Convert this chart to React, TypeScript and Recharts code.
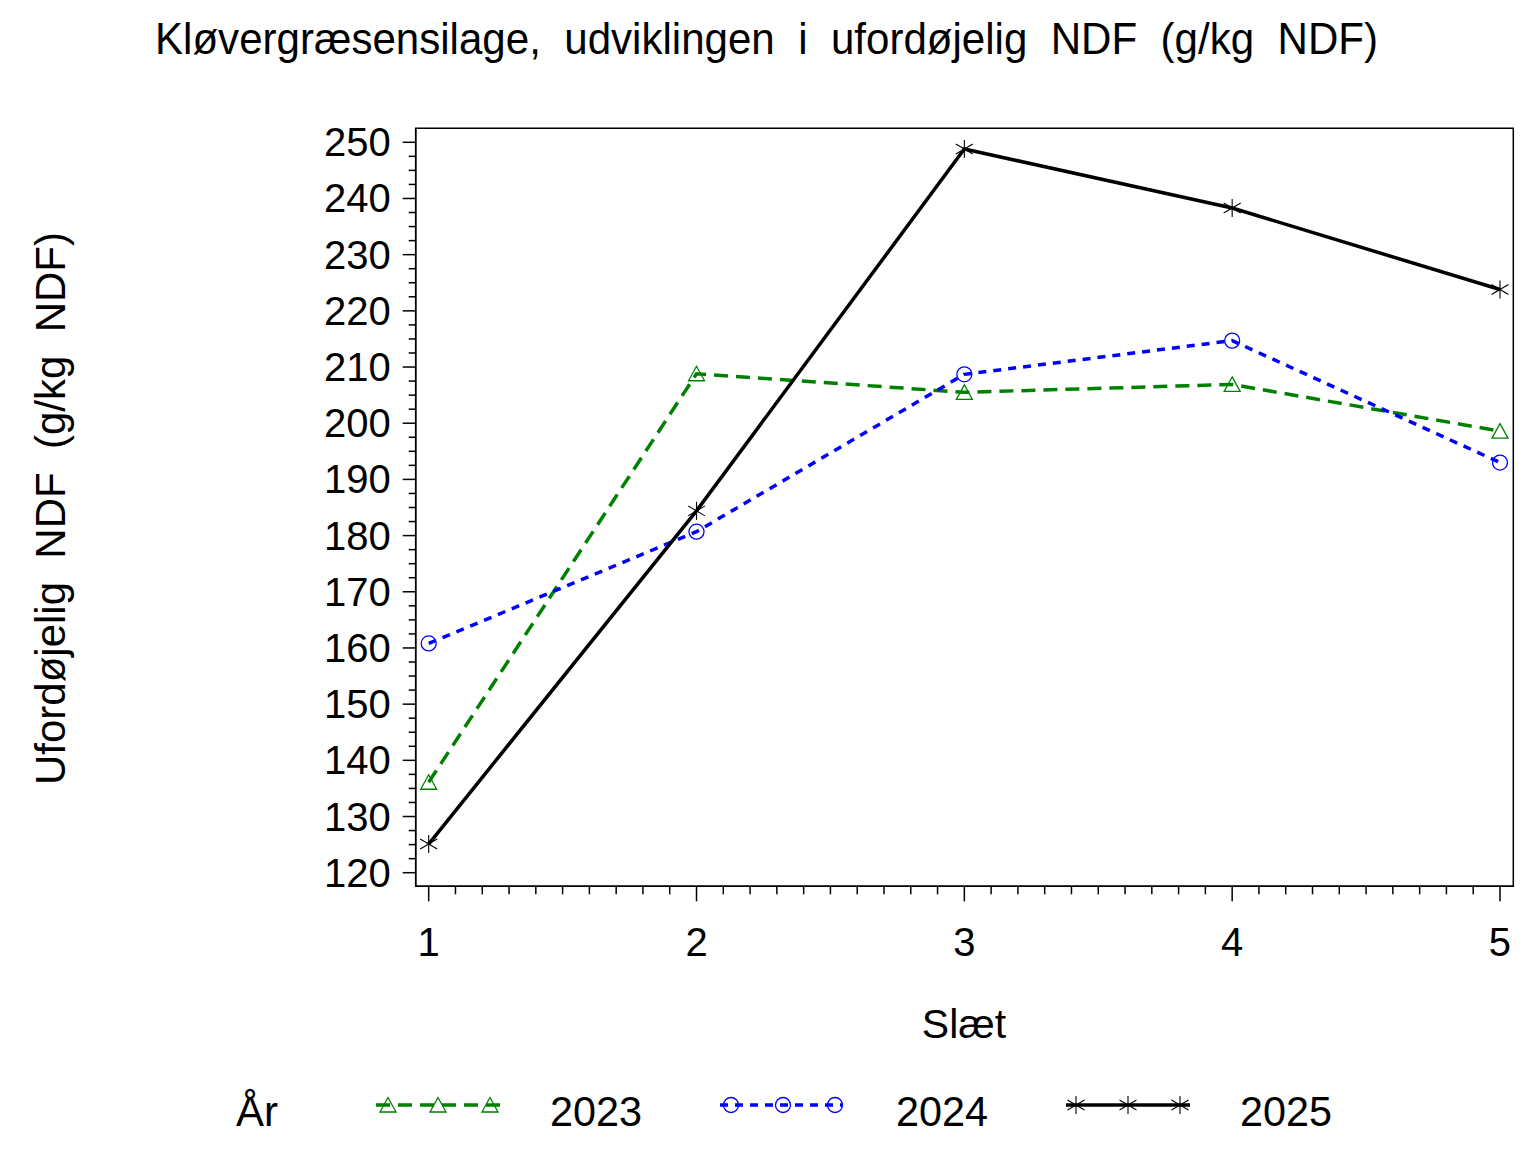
import React from 'react';
import { LineChart, Line, XAxis, YAxis, ReferenceArea, Legend } from 'recharts';

// ---- data ----
const slaet = [1, 2, 3, 4, 5];
const y2023 = [136.1, 208.8, 205.5, 206.9, 198.6];
const y2024 = [160.8, 180.7, 208.7, 214.7, 193.0];
const y2025 = [125.1, 184.4, 248.8, 238.3, 223.8];
const seriesNames = ['2023', '2024', '2025'];
const xMajorTicks = [1, 2, 3, 4, 5];
const yMajorTicks = [120, 130, 140, 150, 160, 170, 180, 190, 200, 210, 220, 230, 240, 250];
const titleText = 'Kløvergræsensilage,  udviklingen  i  ufordøjelig  NDF  (g/kg  NDF)';
const yLabelText = 'Ufordøjelig  NDF  (g/kg  NDF)';
const xLabelText = 'Slæt';
const legendTitle = 'År';

const xDomain: [number, number] = [0.9515, 5.0497];
const yDomain: [number, number] = [117.58, 252.49];

const data = slaet.map((s, i) => ({ slaet: s, y2023: y2023[i], y2024: y2024[i], y2025: y2025[i] }));

const xTicks: number[] = [];
for (let i = 0; i <= 40; i++) xTicks.push(Math.round((1 + i * 0.1) * 10) / 10);
const yTicks: number[] = [];
for (let v = 120; v <= 250; v += 2.5) yTicks.push(v);

const FONT = '"Liberation Sans", Arial, Helvetica, sans-serif';
const GREEN = '#008000';
const BLUE = '#0000ff';
const BLACK = '#000000';

const W = 1520;
const H = 1136;

const XTick = (props: any) => {
  const { x, y, payload } = props;
  const v = payload.value;
  const major = xMajorTicks.some((m) => Math.abs(m - v) < 1e-6);
  return (
    <g>
      <line x1={x} x2={x} y1={y} y2={y + (major ? 15 : 8)} stroke={BLACK} strokeWidth={1.5} />
      {major && (
        <text x={x} y={y + 70} textAnchor="middle" fontFamily={FONT} fontSize={40} fill={BLACK}>
          {String(Math.round(v))}
        </text>
      )}
    </g>
  );
};

const YTick = (props: any) => {
  const { x, y, payload } = props;
  const v = payload.value;
  const major = yMajorTicks.some((m) => Math.abs(m - v) < 1e-6);
  return (
    <g>
      <line x1={x - (major ? 13 : 7)} x2={x} y1={y} y2={y} stroke={BLACK} strokeWidth={1.5} />
      {major && (
        <text x={x - 25} y={y + 14} textAnchor="end" fontFamily={FONT} fontSize={40} fill={BLACK}>
          {String(Math.round(v))}
        </text>
      )}
    </g>
  );
};

const Triangle = ({ cx, cy }: { cx: number; cy: number }) => (
  <polygon
    points={`${cx},${cy - 7.5} ${cx - 8},${cy + 7} ${cx + 8},${cy + 7}`}
    fill="none"
    stroke={GREEN}
    strokeWidth={1.3}
  />
);
const Circ = ({ cx, cy }: { cx: number; cy: number }) => (
  <circle cx={cx} cy={cy} r={7.5} fill="none" stroke={BLUE} strokeWidth={1.3} />
);
const Star = ({ cx, cy }: { cx: number; cy: number }) => (
  <g stroke={BLACK} strokeWidth={1.1}>
    <line x1={cx} x2={cx} y1={cy - 9} y2={cy + 9} />
    <line x1={cx - 8.5} x2={cx + 8.5} y1={cy - 5} y2={cy + 5} />
    <line x1={cx - 8.5} x2={cx + 8.5} y1={cy + 5} y2={cy - 5} />
  </g>
);

const dotFn = (Comp: any) => (p: any) => {
  if (p.cx == null || p.cy == null) return <g key={p.key} />;
  return (
    <g key={p.key}>
      <Comp cx={p.cx} cy={p.cy} />
    </g>
  );
};

const legendItems = [
  { name: seriesNames[0], color: GREEN, dash: '14 8', marker: Triangle, x1: 368, x2: 492, marks: [380, 430, 482], textX: 542 },
  { name: seriesNames[1], color: BLUE, dash: '8 7', marker: Circ, x1: 712, x2: 834, marks: [723, 775, 827], textX: 888 },
  { name: seriesNames[2], color: BLACK, dash: undefined, marker: Star, x1: 1058, x2: 1182, marks: [1068, 1120, 1172], textX: 1232 },
];

const LegendSvg = () => (
  <svg width={W} height={80} style={{ display: 'block' }}>
    <text x={228} y={58} fontFamily={FONT} fontSize={42} fill={BLACK}>
      {legendTitle}
    </text>
    {legendItems.map((it) => {
      const M = it.marker;
      return (
        <g key={it.name}>
          <line x1={it.x1} x2={it.x2} y1={37} y2={37} stroke={it.color} strokeWidth={3.5} strokeDasharray={it.dash} />
          {it.marks.map((mx) => (
            <M key={mx} cx={mx} cy={37} />
          ))}
          <text x={it.textX} y={58} fontFamily={FONT} fontSize={42} fill={BLACK} textLength={92} lengthAdjust="spacingAndGlyphs">
            {it.name}
          </text>
        </g>
      );
    })}
  </svg>
);

export default function App() {
  return (
    <div style={{ position: 'relative', width: W, height: H, background: '#fff' }}>
      <LineChart
        width={W}
        height={H}
        data={data}
        margin={{ top: 120.3, right: 14.7, bottom: 157.7, left: 307.7 }}
      >
        <XAxis
          dataKey="slaet"
          type="number"
          domain={xDomain}
          allowDataOverflow
          ticks={xTicks}
          interval={0}
          tick={<XTick />}
          tickLine={false}
          tickSize={0}
          tickMargin={0}
          axisLine={{ stroke: BLACK, strokeWidth: 1.5 }}
          height={100}
        />
        <YAxis
          type="number"
          domain={yDomain}
          allowDataOverflow
          ticks={yTicks}
          interval={0}
          tick={<YTick />}
          tickLine={false}
          tickSize={0}
          tickMargin={0}
          axisLine={{ stroke: BLACK, strokeWidth: 1.5 }}
          width={100}
        />
        <ReferenceArea
          x1={xDomain[0]}
          x2={xDomain[1]}
          y1={yDomain[0]}
          y2={yDomain[1]}
          fill="none"
          fillOpacity={0}
          stroke={BLACK}
          strokeWidth={1.5}
          ifOverflow="visible"
        />
        <Line
          dataKey="y2023"
          stroke={GREEN}
          strokeWidth={3.5}
          strokeDasharray="14 8"
          dot={dotFn(Triangle)}
          activeDot={false}
          isAnimationActive={false}
        />
        <Line
          dataKey="y2024"
          stroke={BLUE}
          strokeWidth={3.5}
          strokeDasharray="8 7"
          dot={dotFn(Circ)}
          activeDot={false}
          isAnimationActive={false}
        />
        <Line
          dataKey="y2025"
          stroke={BLACK}
          strokeWidth={3.5}
          dot={dotFn(Star)}
          activeDot={false}
          isAnimationActive={false}
        />
        <Legend
          verticalAlign="middle"
          align="center"
          layout="horizontal"
          wrapperStyle={{ left: 0, top: 1060, width: W, height: 80 }}
          content={() => <LegendSvg />}
        />
        <text
          x={766.5 - 8}
          y={46}
          textAnchor="middle"
          fontFamily={FONT}
          fontSize={44}
          fill={BLACK}
          textLength={1223}
          lengthAdjust="spacingAndGlyphs"
          style={{ whiteSpace: 'pre' }}
        >
          {titleText}
        </text>
        <text
          transform={`translate(57, 500.5) rotate(-90)`}
          x={0}
          y={0}
          textAnchor="middle"
          fontFamily={FONT}
          fontSize={42}
          fill={BLACK}
          textLength={553}
          lengthAdjust="spacingAndGlyphs"
          style={{ whiteSpace: 'pre' }}
        >
          {yLabelText}
        </text>
        <text x={956} y={1030} textAnchor="middle" fontFamily={FONT} fontSize={41} fill={BLACK}>
          {xLabelText}
        </text>
      </LineChart>
    </div>
  );
}
